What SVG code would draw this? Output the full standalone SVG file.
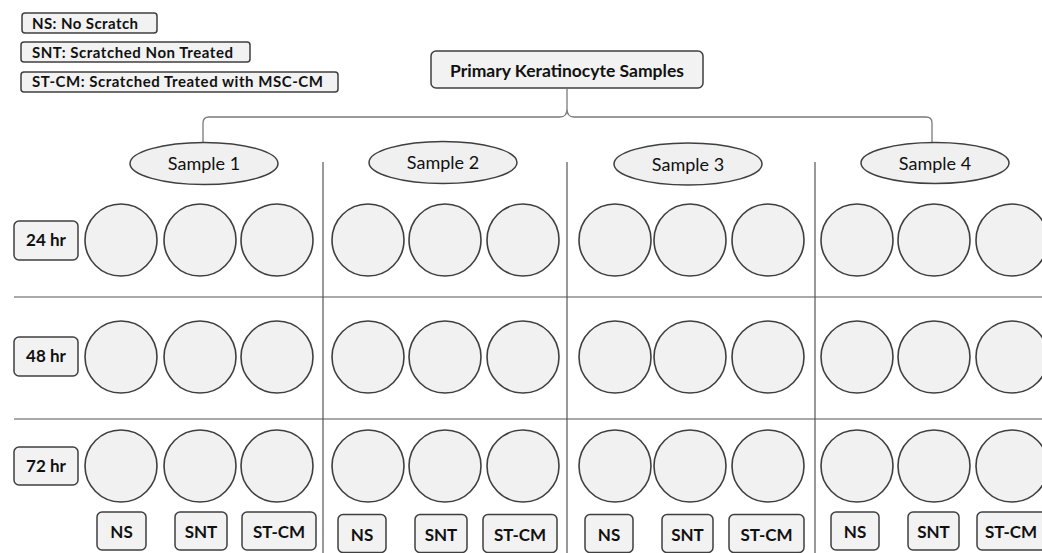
<svg xmlns="http://www.w3.org/2000/svg" width="1042" height="553" viewBox="0 0 1042 553">
<style>
text{font-family:Lato,"Open Sans","Liberation Sans",sans-serif;fill:#111}
.b{font-weight:bold}
.box{fill:#f2f2f2;stroke:#3f3f3f;stroke-width:1.5}
.ell{fill:#f0f0f0;stroke:#3f3f3f;stroke-width:1.5}
.well{fill:#f1f1f1;stroke:#3f3f3f;stroke-width:1.6}
.grid{stroke:#555;stroke-width:1.2;fill:none}
.brace{stroke:#7a7a7a;stroke-width:1.3;fill:none}
</style>
<rect width="1042" height="553" fill="#fff"/>

<g id="legend">
<g id="legend-ns"><rect class="box" x="22" y="13" width="135" height="20" rx="3"/><text class="b" x="32" y="29" font-size="15" textLength="106">NS: No Scratch</text></g>
<g id="legend-snt"><rect class="box" x="21" y="42" width="229" height="20" rx="3"/><text class="b" x="32" y="58" font-size="15" textLength="201">SNT: Scratched Non Treated</text></g>
<g id="legend-stcm"><rect class="box" x="21" y="72" width="317" height="20" rx="3"/><text class="b" x="32" y="87" font-size="15" textLength="291">ST-CM: Scratched Treated with MSC-CM</text></g>
</g>

<g id="title"><rect class="box" x="431" y="51" width="272" height="37" rx="5"/><text class="b" x="567" y="77" font-size="17.5" text-anchor="middle">Primary Keratinocyte Samples</text></g>

<g id="connectors">
<path class="brace" d="M203 142 L203 123 Q203 117 209 117 L560 117 Q567 117 567 109 L567 89 M567 109 Q567 117 574 117 L926 117 Q932 117 932 123 L932 142"/>
<line class="grid" x1="323" y1="162" x2="323" y2="553"/>
<line class="grid" x1="567" y1="162" x2="567" y2="553"/>
<line class="grid" x1="815" y1="162" x2="815" y2="553"/>
<line class="grid" x1="14" y1="297" x2="1042" y2="297"/>
<line class="grid" x1="14" y1="419" x2="1042" y2="419"/>
</g>

<g id="samples">
<g id="sample1"><ellipse class="ell" cx="204" cy="163.5" rx="74" ry="21"/><text x="204" y="170" font-size="18" text-anchor="middle">Sample 1</text></g>
<g id="sample2"><ellipse class="ell" cx="443" cy="162.5" rx="74" ry="21"/><text x="443" y="169" font-size="18" text-anchor="middle">Sample 2</text></g>
<g id="sample3"><ellipse class="ell" cx="688" cy="164" rx="74" ry="21"/><text x="688" y="170.5" font-size="18" text-anchor="middle">Sample 3</text></g>
<g id="sample4"><ellipse class="ell" cx="935" cy="163" rx="74" ry="20.5"/><text x="935" y="169.5" font-size="18" text-anchor="middle">Sample 4</text></g>
</g>

<g id="time-labels">
<g id="t24"><rect class="box" x="14" y="221" width="64" height="39" rx="5"/><text class="b" x="46" y="246" font-size="17" text-anchor="middle">24 hr</text></g>
<g id="t48"><rect class="box" x="14" y="337" width="64" height="39" rx="5"/><text class="b" x="46" y="362" font-size="17" text-anchor="middle">48 hr</text></g>
<g id="t72"><rect class="box" x="14" y="447" width="64" height="38" rx="5"/><text class="b" x="46" y="472" font-size="17" text-anchor="middle">72 hr</text></g>
</g>

<g id="wells">
<g id="row24">
<circle class="well" cx="121" cy="240" r="36"/><circle class="well" cx="200" cy="240" r="36"/><circle class="well" cx="277" cy="240" r="36"/>
<circle class="well" cx="368" cy="240" r="36"/><circle class="well" cx="445" cy="240" r="36"/><circle class="well" cx="523" cy="240" r="36"/>
<circle class="well" cx="615" cy="240" r="36"/><circle class="well" cx="690" cy="240" r="36"/><circle class="well" cx="768" cy="240" r="36"/>
<circle class="well" cx="857" cy="240" r="36"/><circle class="well" cx="934" cy="240" r="36"/><circle class="well" cx="1012" cy="240" r="36"/>
</g>
<g id="row48">
<circle class="well" cx="121" cy="357" r="36"/><circle class="well" cx="200" cy="357" r="36"/><circle class="well" cx="277" cy="357" r="36"/>
<circle class="well" cx="368" cy="357" r="36"/><circle class="well" cx="445" cy="357" r="36"/><circle class="well" cx="523" cy="357" r="36"/>
<circle class="well" cx="615" cy="357" r="36"/><circle class="well" cx="690" cy="357" r="36"/><circle class="well" cx="768" cy="357" r="36"/>
<circle class="well" cx="857" cy="357" r="36"/><circle class="well" cx="934" cy="357" r="36"/><circle class="well" cx="1012" cy="357" r="36"/>
</g>
<g id="row72">
<circle class="well" cx="121" cy="466" r="36"/><circle class="well" cx="200" cy="466" r="36"/><circle class="well" cx="277" cy="466" r="36"/>
<circle class="well" cx="368" cy="466" r="36"/><circle class="well" cx="445" cy="466" r="36"/><circle class="well" cx="523" cy="466" r="36"/>
<circle class="well" cx="615" cy="466" r="36"/><circle class="well" cx="690" cy="466" r="36"/><circle class="well" cx="768" cy="466" r="36"/>
<circle class="well" cx="857" cy="466" r="36"/><circle class="well" cx="934" cy="466" r="36"/><circle class="well" cx="1012" cy="466" r="36"/>
</g>
</g>

<g id="condition-labels">
<g id="s1-ns"><rect class="box" x="97" y="512" width="49" height="38" rx="5"/><text class="b" x="121.5" y="538" font-size="17" text-anchor="middle">NS</text></g>
<g id="s1-snt"><rect class="box" x="175" y="512" width="52" height="38" rx="5"/><text class="b" x="201" y="538" font-size="17" text-anchor="middle">SNT</text></g>
<g id="s1-stcm"><rect class="box" x="242" y="512" width="74" height="38" rx="5"/><text class="b" x="279" y="538" font-size="17" text-anchor="middle">ST-CM</text></g>
<g id="s2-ns"><rect class="box" x="338" y="514.5" width="48" height="38" rx="5"/><text class="b" x="362" y="540.5" font-size="17" text-anchor="middle">NS</text></g>
<g id="s2-snt"><rect class="box" x="415" y="514.5" width="52" height="38" rx="5"/><text class="b" x="441" y="540.5" font-size="17" text-anchor="middle">SNT</text></g>
<g id="s2-stcm"><rect class="box" x="483" y="514.5" width="74" height="38" rx="5"/><text class="b" x="520" y="540.5" font-size="17" text-anchor="middle">ST-CM</text></g>
<g id="s3-ns"><rect class="box" x="585" y="514.5" width="48" height="38" rx="5"/><text class="b" x="609" y="540.5" font-size="17" text-anchor="middle">NS</text></g>
<g id="s3-snt"><rect class="box" x="662" y="514.5" width="51" height="38" rx="5"/><text class="b" x="687.5" y="540.5" font-size="17" text-anchor="middle">SNT</text></g>
<g id="s3-stcm"><rect class="box" x="729" y="514.5" width="75" height="38" rx="5"/><text class="b" x="766.5" y="540.5" font-size="17" text-anchor="middle">ST-CM</text></g>
<g id="s4-ns"><rect class="box" x="831" y="512" width="48" height="38" rx="5"/><text class="b" x="855" y="538" font-size="17" text-anchor="middle">NS</text></g>
<g id="s4-snt"><rect class="box" x="908" y="512" width="51" height="38" rx="5"/><text class="b" x="933.5" y="538" font-size="17" text-anchor="middle">SNT</text></g>
<g id="s4-stcm"><rect class="box" x="977" y="512" width="72" height="38" rx="5"/><text class="b" x="1011" y="538" font-size="17" text-anchor="middle">ST-CM</text></g>
</g>
</svg>
